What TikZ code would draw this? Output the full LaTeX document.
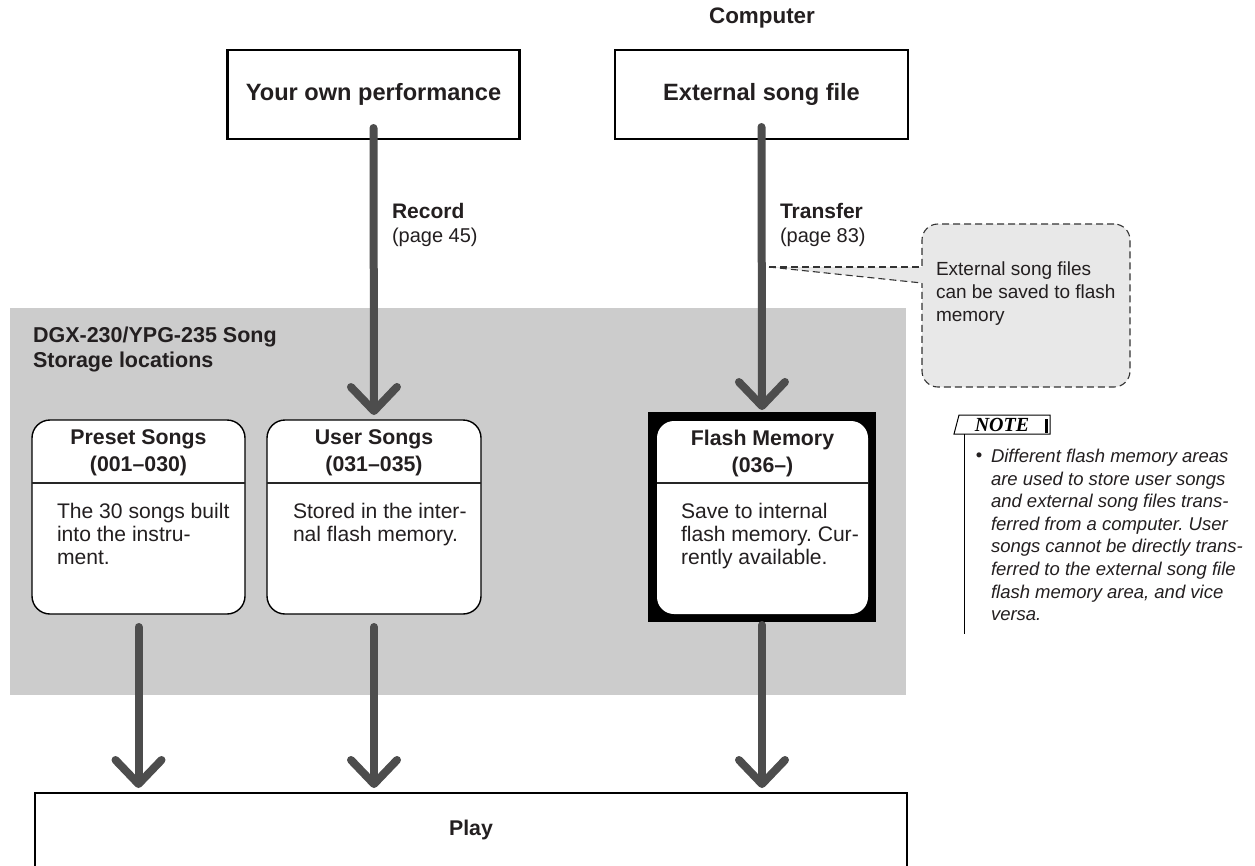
\documentclass[tikz,border=0pt]{standalone}
\usepackage{fontspec}
\setmainfont{Liberation Sans}
\newfontfamily\notefont{Liberation Serif}
\usetikzlibrary{arrows.meta}
\definecolor{arrowgray}{HTML}{4D4D4D}
\definecolor{bggray}{HTML}{CCCCCC}
\definecolor{callgray}{HTML}{E8E8E8}
\definecolor{ink}{HTML}{231F20}
\frenchspacing
\tikzset{
  boldlbl/.style={font=\fontsize{21.3}{27}\selectfont\bfseries, text=ink, inner sep=0pt, outer sep=0pt},
  plainlbl/.style={font=\fontsize{21.1}{23}\selectfont, text=ink, inner sep=0pt, outer sep=0pt, align=left},
  topbox/.style={draw=black, line width=2.5pt, fill=white, inner sep=0pt, outer sep=0pt,
    font=\fontsize{23.6}{27}\selectfont\bfseries, text=ink},
  storebox/.style={draw=black, line width=1.4pt, fill=white, rounded corners=18pt,
    inner sep=0pt, outer sep=0pt, minimum height=194pt},
  divider/.style={draw=black!85, line width=1.2pt},
  bigarrow/.style={draw=arrowgray, line width=8pt, line cap=round,
    -{Straight Barb[length=24pt, width=46pt, round]}},
  callline/.style={draw=black!80, line width=1.1pt, dash pattern=on 7pt off 4pt},
  notetext/.style={font=\fontsize{18.5}{22.6}\selectfont\itshape, text=ink, inner sep=0pt, outer sep=0pt, align=left},
}
\begin{document}
\begin{tikzpicture}[x=1pt,y=-1pt]
\useasboundingbox (0,0) rectangle (1255,865);
\fill[white] (0,0) rectangle (1255,865);

% gray storage area
\fill[bggray] (10,308) rectangle (906,695);
\node[boldlbl, anchor=north west, align=left, font=\fontsize{21.5}{25}\selectfont\bfseries] (storage) at (33,327) {DGX-230/YPG-235 Song\\Storage locations};

% top
\node[boldlbl, font=\fontsize{22.4}{27}\selectfont\bfseries] (computer) at (762,18) {Computer};
\node[topbox, minimum width=292pt, minimum height=89pt] (own) at (373.5,94.5) {Your own performance};
\node[topbox, minimum width=293pt, minimum height=89pt] (ext) at (761.5,94.5) {External song file};

% labels
\node[boldlbl, anchor=west, font=\fontsize{21}{25}\selectfont\bfseries] (reclbl) at (392,211) {Record};
\node[plainlbl, anchor=west, font=\fontsize{20}{23}\selectfont] (recpg) at (392,237) {(page 45)};
\node[boldlbl, anchor=west, font=\fontsize{21}{25}\selectfont\bfseries] (trlbl) at (780,211) {Transfer};
\node[plainlbl, anchor=west, font=\fontsize{20}{23}\selectfont] (trpg) at (780,237) {(page 83)};

% callout
\node[callline, fill=callgray, rounded corners=16pt, inner sep=0pt, outer sep=0pt,
  minimum width=208pt, minimum height=163pt] (callbox) at (1026,305.5) {};
\coordinate (calltip) at (769,267);
\fill[callgray] (calltip) -- (924,267) -- (924,283) -- (922,283) -- cycle;
\draw[callline] (calltip) -- (callbox.west |- 0,267);
\draw[callline] (calltip) -- (callbox.west |- 0,283);
\node[plainlbl, anchor=north west, font=\fontsize{19}{23}\selectfont] (calltext) at (936,262) {External song files\\can be saved to flash\\memory};

% storage boxes
\node[storebox, minimum width=213pt] (preset) at (138.5,517) {};
\node[storebox, minimum width=214pt] (user) at (374,517) {};
\node[fill=black, inner sep=0pt, outer sep=0pt, minimum width=228pt, minimum height=210pt] (flashframe) at (762,517) {};
\node[fill=white, rounded corners=17pt, inner sep=0pt, outer sep=0pt, minimum width=211pt, minimum height=193pt] (flash) at (762.5,517.5) {};

\draw[divider] (preset.west |- 0,483) -- (preset.east |- 0,483);
\draw[divider] (user.west |- 0,483) -- (user.east |- 0,483);
\draw[divider] (flash.west |- 0,483) -- (flash.east |- 0,483);

\node[boldlbl, anchor=north, align=center] (presett) at (138.5,430) {Preset Songs\\(001–030)};
\node[boldlbl, anchor=north, align=center] (usert) at (374,430) {User Songs\\(031–035)};
\node[boldlbl, anchor=north, align=center] (flasht) at (762.5,430) {Flash Memory\\(036–)};

\node[plainlbl, anchor=north west] (presetb) at (57,503) {The 30 songs built\\into the instru-\\ment.};
\node[plainlbl, anchor=north west] (userb) at (293,503) {Stored in the inter-\\nal flash memory.};
\node[plainlbl, anchor=north west] (flashb) at (681,503) {Save to internal\\flash memory. Cur-\\rently available.};

% play
\node[draw=black, line width=2.5pt, fill=white, inner sep=0pt, outer sep=0pt, minimum width=872pt, minimum height=80pt] (play) at (471,833) {};
\node[boldlbl] (playt) at (471,830) {Play};

% arrows
\draw[bigarrow] ([yshift=11pt]own.south) -- ([yshift=5pt]user.north);
\draw[bigarrow] ([yshift=12pt]ext.south) -- ([yshift=2pt]flashframe.north);
\draw[bigarrow] ([yshift=-13pt]preset.south) -- ([yshift=5pt]preset.south |- play.north);
\draw[bigarrow] ([yshift=-13pt]user.south) -- ([yshift=5pt]user.south |- play.north);
\draw[bigarrow] ([yshift=-3pt]flashframe.south) -- ([yshift=5pt]flashframe.south |- play.north);

% note
\draw[line width=1pt, fill=white] (954,434) -- (959,415) -- (1050,415) -- (1050,434) -- cycle;
\fill[black] (1044.5,419) rectangle (1048,433);
\node[inner sep=0pt, font=\notefont\fontsize{20}{22}\selectfont\bfseries\itshape, text=black] (notet) at (1002,425) {NOTE};
\draw[line width=1pt] (964,434) -- (964,634);
\node[notetext, anchor=center] (bullet) at (979,457) {\upshape•};
\node[notetext, anchor=north west] (notebody) at (991,449) {Different flash memory areas\\are used to store user songs\\and external song files trans-\\ferred from a computer. User\\songs cannot be directly trans-\\ferred to the external song file\\flash memory area, and vice\\versa.};
\end{tikzpicture}
\end{document}
